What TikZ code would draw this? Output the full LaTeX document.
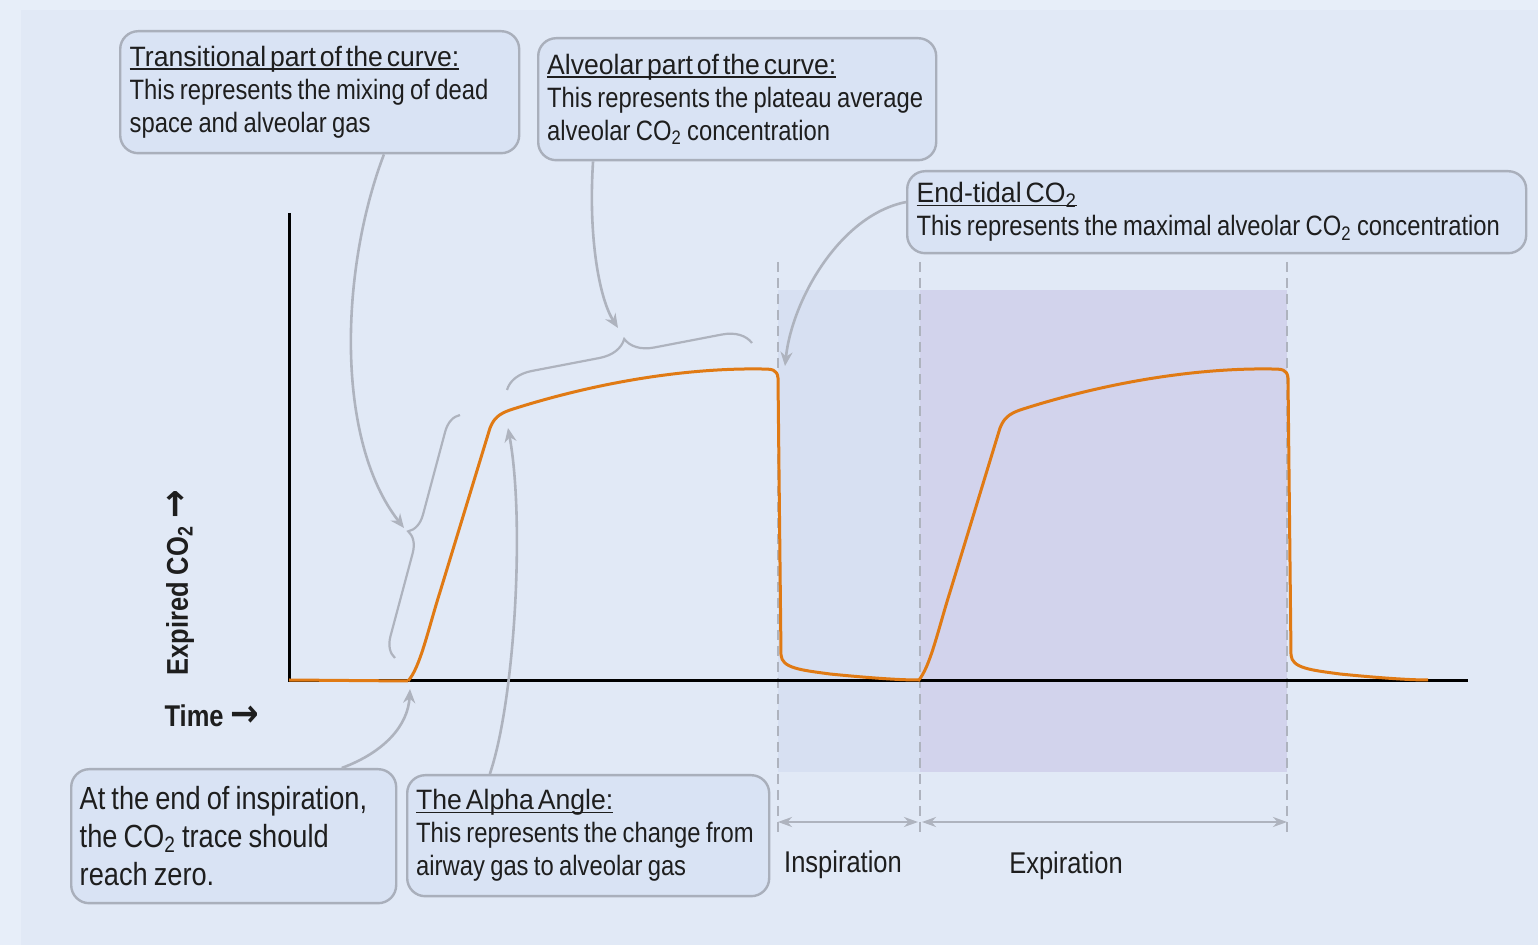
\documentclass[tikz,border=0pt]{standalone}
\usepackage{fontspec}
\setmainfont{Liberation Sans}[FakeStretch=0.85]
\newfontfamily\headfont{Liberation Sans}[FakeStretch=0.95]
\newfontfamily\arrowfont{DejaVu Sans}[FakeStretch=0.9]
\usetikzlibrary{arrows.meta,decorations.pathreplacing,calc}
\newsavebox{\headbox}
\newcommand{\headline}[1]{\sbox{\headbox}{\headfont\fontsize{14}{16.5}\selectfont\spaceskip=0.14em\relax #1}%
  \rlap{\rule[-1.7pt]{\wd\headbox}{0.9pt}}\usebox{\headbox}}
\newcommand{\rarrow}{{\arrowfont\bfseries\fontsize{19}{18}\selectfont →}}
\newcommand{\tightspace}{\spaceskip=0.19em plus 0.05em minus 0.02em\relax}
\definecolor{edgebg}{HTML}{E7EEF9}
\definecolor{pagebg}{HTML}{E1E9F6}
\definecolor{boxfill}{HTML}{D9E3F4}
\definecolor{boxline}{HTML}{A9AFBB}
\definecolor{greyline}{HTML}{AEB3BE}
\definecolor{trace}{HTML}{E07A14}
\definecolor{inspshade}{HTML}{D7E0F2}
\definecolor{expshade}{HTML}{D2D3EC}
\definecolor{ink}{HTML}{1E1E1E}

\begin{document}
\begin{tikzpicture}[x=0.5pt,y=-0.5pt,>=Stealth,
  notebox/.style={draw=boxline, line width=1.2pt, fill=boxfill, rounded corners=9pt,
    align=left, anchor=north west, inner xsep=4pt, inner ysep=3pt, text=ink,
    font=\fontsize{14}{16.5}\selectfont, execute at begin node=\tightspace},
  pointer/.style={draw=greyline, line width=1.3pt, -{Stealth[length=7pt,width=6pt]}},
  span/.style={draw=greyline, line width=1.3pt, {Stealth[length=7pt,width=5pt]}-{Stealth[length=7pt,width=5pt]}},
  bracket/.style={draw=greyline, line width=1.1pt, decorate, decoration={brace, amplitude=#1}},
  phase/.style={draw=greyline, line width=0.9pt, dash pattern=on 5pt off 3pt},
  axislabel/.style={font=\bfseries\fontsize{15}{18}\selectfont, text=ink},
  phaselabel/.style={font=\fontsize{15}{18}\selectfont, text=ink}]

% background
\fill[edgebg] (0,0) rectangle (1538,945);
\fill[pagebg] (21,10) rectangle (1538,945);

% phases
\fill[inspshade] (778,290) rectangle (920,772);
\fill[expshade] (920,290) rectangle (1287,772);
\draw[phase] (778,262) -- (778,835);
\draw[phase] (920,262) -- (920,835);
\draw[phase] (1287,262) -- (1287,832);

% axes
\draw[line width=1.5pt] (289,213) -- (289,681) -- (1468,681);
\node[axislabel] (timelab) at (212,716) {Time \rarrow};
\node[axislabel, rotate=90] (co2lab) at (180,583) {Expired CO\textsubscript{2} \rarrow};

% capnogram trace
\draw[trace, line width=1.5pt] (289,680) -- (408,681);
\foreach \dx in {0,510} {
  \draw[trace, line width=1.5pt, line join=round, shift={(\dx,0)}]
    (408,681) .. controls (420,668) and (428,630) .. (440,592) -- (490,428)
    .. controls (494,418) and (499,414) .. (510,410)
    .. controls (600,381) and (690,368) .. (760,369)
    .. controls (772,369) and (777,369) .. (778,378) -- (781,655)
    .. controls (782,668) and (800,670) .. (830,674)
    .. controls (870,678) and (900,680) .. (918,680);
}

% braces
\draw[bracket=10pt] (395,658) -- (460,415);
\draw[bracket=14pt] (507,390) -- (752,343);
\coordinate (transtip) at (404,528);
\coordinate (alvtip) at (618,328);
\coordinate (etco2) at (785,366);
\coordinate (zeropt) at (410,689);
\coordinate (kneept) at (508,428);

% notes
\node[notebox, minimum width=199.5pt, minimum height=61pt, text width=190pt] (trans) at (119,30)
  {\headline{Transitional part of the curve:}\\This represents the mixing of dead\\space and alveolar gas};
\node[notebox, minimum width=199pt, minimum height=61pt, text width=190pt] (alv) at (537,37)
  {\headline{Alveolar part of the curve:}\\This represents the plateau average\\alveolar CO\textsubscript{2} concentration};
\node[notebox, minimum width=309.5pt, minimum height=41pt, text width=300pt] (endtidal) at (906,170)
  {\headline{End-tidal CO\textsubscript{2}}\\This represents the maximal alveolar CO\textsubscript{2} concentration};
\node[notebox, minimum width=162.5pt, minimum height=67pt, text width=154pt,
  font=\fontsize{16}{19}\selectfont] (zero) at (70,768)
  {At the end of inspiration,\\the CO\textsubscript{2} trace should\\reach zero.};
\node[notebox, minimum width=181pt, minimum height=60.5pt, text width=172pt] (alpha) at (406,774)
  {\headline{The Alpha Angle:}\\This represents the change from\\airway gas to alveolar gas};

% pointers
\draw[pointer] ($(trans.south west)!0.66!(trans.south east)$)
  .. controls (340,270) and (335,440) .. (transtip);
\draw[pointer] ($(alv.south west)!0.14!(alv.south east)$)
  .. controls (588,240) and (600,300) .. (alvtip);
\draw[pointer] ($(endtidal.north west)!0.38!(endtidal.south west)$)
  .. controls (840,215) and (792,300) .. (etco2);
\draw[pointer] ($(zero.north west)!0.83!(zero.north east)$)
  .. controls (385,752) and (408,725) .. (zeropt);
\draw[pointer] ($(alpha.north west)!0.23!(alpha.north east)$)
  .. controls (515,700) and (525,520) .. (kneept);

% phase spans
\coordinate (ia) at (778,822);
\coordinate (ib) at (918,822);
\coordinate (ea) at (922,822);
\coordinate (eb) at (1287,822);
\draw[span] (ia) -- (ib);
\draw[span] (ea) -- (eb);
\node[phaselabel] (insp) at (843,865) {Inspiration};
\node[phaselabel] (expi) at (1066,866) {Expiration};
\end{tikzpicture}
\end{document}
